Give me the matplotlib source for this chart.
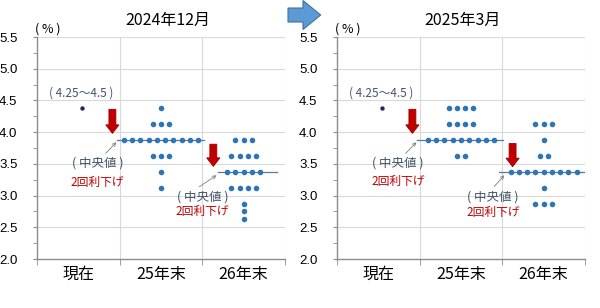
import matplotlib
matplotlib.use('Agg')
import matplotlib.pyplot as plt
import numpy as np
from matplotlib.patches import Polygon

plt.rcParams['font.family'] = ['Liberation Sans', 'Noto Sans CJK JP', 'DejaVu Sans']
CJK = ['Noto Sans CJK JP', 'DejaVu Sans']

# ---------------- data ----------------
categories = ['現在', '25年末', '26年末']
panel_titles = ['2024年12月', '2025年3月']
y_ticks = [2.0, 2.5, 3.0, 3.5, 4.0, 4.5, 5.0, 5.5]
current_rate = 4.375
current_label = '( 4.25～4.5 )'

# Dec 2024 projections
dec24_y25_rates = [4.375, 4.125, 3.875, 3.625, 3.375, 3.125]
dec24_y25_counts = [1, 3, 10, 3, 1, 1]
dec24_y26_rates = [3.875, 3.625, 3.375, 3.125, 2.875, 2.75, 2.625]
dec24_y26_counts = [3, 4, 5, 4, 1, 1, 1]
dec24_medians = [3.875, 3.375]

# Mar 2025 projections
mar25_y25_rates = [4.375, 4.125, 3.875, 3.625]
mar25_y25_counts = [4, 4, 9, 2]
mar25_y26_rates = [4.125, 3.875, 3.625, 3.375, 3.125, 2.875]
mar25_y26_counts = [3, 1, 2, 9, 1, 3]
mar25_medians = [3.875, 3.375]

median_label = '( 中央値 )'
cut_label = '2回利下げ'
unit_label = '( % )'

# ---------------- style ----------------
DOT = '#2e75b6'
NAVY = '#1f2a5c'
RED = '#c00000'
GRID = '#d9d9d9'
SPINE = '#8c8c8c'
TXT = '#44546a'

fig = plt.figure(figsize=(6.0, 3.08), dpi=100)

panels = [
    dict(ax_rect=[37/600, 1-259/308, 248/600, 222/308], title_x=168/600,
         y25=(dec24_y25_rates, dec24_y25_counts), y26=(dec24_y26_rates, dec24_y26_counts),
         medians=dec24_medians, med_spans=[(0.467, 1.524), (1.684, 2.407)],
         arrows=[(0.412, 4.36, 3.98), (1.633, 3.81, 3.46)],
         texts=[(0.235, 3.51, 3.21), (1.50, 2.98, 2.745)],
         pointers=[((0.331, 3.666), (0.46, 3.84)), ((1.464, 3.14), (1.672, 3.32))]),
    dict(ax_rect=[337/600, 1-259/308, 248/600, 222/308], title_x=463/600,
         y25=(mar25_y25_rates, mar25_y25_counts), y26=(mar25_y26_rates, mar25_y26_counts),
         medians=mar25_medians, med_spans=[(0.467, 1.51), (1.464, 2.508)],
         arrows=[(0.412, 4.36, 3.98), (1.624, 3.82, 3.455)],
         texts=[(0.239, 3.51, 3.22), (1.39, 2.98, 2.735)],
         pointers=[((0.331, 3.666), (0.46, 3.84)), ((1.40, 3.14), (1.524, 3.32))]),
]

spacing = 0.1

def draw_dots(ax, cx, rates, counts):
    xs, ys = [], []
    for r, n in zip(rates, counts):
        for i in range(n):
            xs.append(cx + (i - (n - 1) / 2) * spacing)
            ys.append(r)
    ax.scatter(xs, ys, s=16, color=DOT, zorder=4, linewidths=0)

def red_arrow(ax, x, ytop, ytip):
    sw, hw, hl = 0.042, 0.08, 0.135
    pts = [(x - sw, ytop), (x + sw, ytop), (x + sw, ytip + hl), (x + hw, ytip + hl),
           (x, ytip), (x - hw, ytip + hl), (x - sw, ytip + hl)]
    ax.add_patch(Polygon(pts, closed=True, facecolor=RED, edgecolor='#9e0000',
                         linewidth=0.6, zorder=5))

for k, p in enumerate(panels):
    ax = fig.add_axes(p['ax_rect'])
    ax.set_xlim(-0.5, 2.5)
    ax.set_ylim(2.0, 5.5)
    for y in y_ticks[1:]:
        ax.axhline(y, color=GRID, lw=0.8, zorder=0)
    for x in [0.5, 1.5, 2.5]:
        ax.axvline(x, color=GRID, lw=0.8, zorder=0)
    for s in ['top', 'right']:
        ax.spines[s].set_visible(False)
    for s in ['left', 'bottom']:
        ax.spines[s].set_color(SPINE)
        ax.spines[s].set_linewidth(1.0)

    ax.set_yticks(y_ticks)
    ax.set_yticklabels([f'{v:.1f}' for v in y_ticks], fontsize=9.5)
    ax.set_yticks(np.arange(2.0, 5.51, 0.25), minor=True)
    ax.tick_params(axis='y', which='both', length=3, color=SPINE, pad=11)

    ax.set_xticks([0, 1, 2])
    ax.set_xticklabels(categories, fontsize=11.5, family=CJK)
    ax.tick_params(axis='x', which='major', length=0, pad=5)
    ax.set_xticks([-0.5, 0.5, 1.5, 2.5], minor=True)
    ax.tick_params(axis='x', which='minor', length=4, color=SPINE)

    # current rate
    ax.scatter([0.046], [current_rate], s=10, color=NAVY, zorder=4, linewidths=0)
    ax.text(0.03, 4.62, current_label, fontsize=8.5, color=TXT, ha='center',
            va='center', family=CJK)

    draw_dots(ax, 1.0, *p['y25'])
    draw_dots(ax, 2.0, *p['y26'])

    for med, (x0, x1) in zip(p['medians'], p['med_spans']):
        ax.plot([x0, x1], [med, med], color='#5b7a99', lw=0.9, zorder=3)

    for (x, yt, yb) in p['arrows']:
        red_arrow(ax, x, yt, yb)

    for (x, y1, y2) in p['texts']:
        ax.text(x, y1, median_label, fontsize=9, color=TXT, ha='center',
                va='center', family=CJK)
        ax.text(x, y2, cut_label, fontsize=8.5, color=RED, ha='center',
                va='center', family=CJK)

    for (st, en) in p['pointers']:
        ax.annotate('', xy=en, xytext=st,
                    arrowprops=dict(arrowstyle='->', color='#7f7f7f', lw=0.6,
                                    shrinkA=0, shrinkB=0, mutation_scale=6))

    ax.text(-0.37, 5.52, unit_label, fontsize=9, color='black', ha='center',
            va='bottom', family=CJK)
    fig.text(p['title_x'], 1 - 20.7/308, panel_titles[k], fontsize=11.5,
             ha='center', va='center', family=CJK)

# blue transition arrow at top
W, H = 600, 308
arrow_px = [(288, 8), (303, 8), (303, 0.5), (320.7, 15), (303, 29.5), (303, 22), (288, 22)]
arrow_pts = [(x / W, 1 - y / H) for x, y in arrow_px]
fig.patches.append(Polygon(arrow_pts, closed=True, transform=fig.transFigure,
                           facecolor='#5b9bd5', edgecolor='#41719c', linewidth=0.8))

fig.savefig('out.png', dpi=100, facecolor='white')
